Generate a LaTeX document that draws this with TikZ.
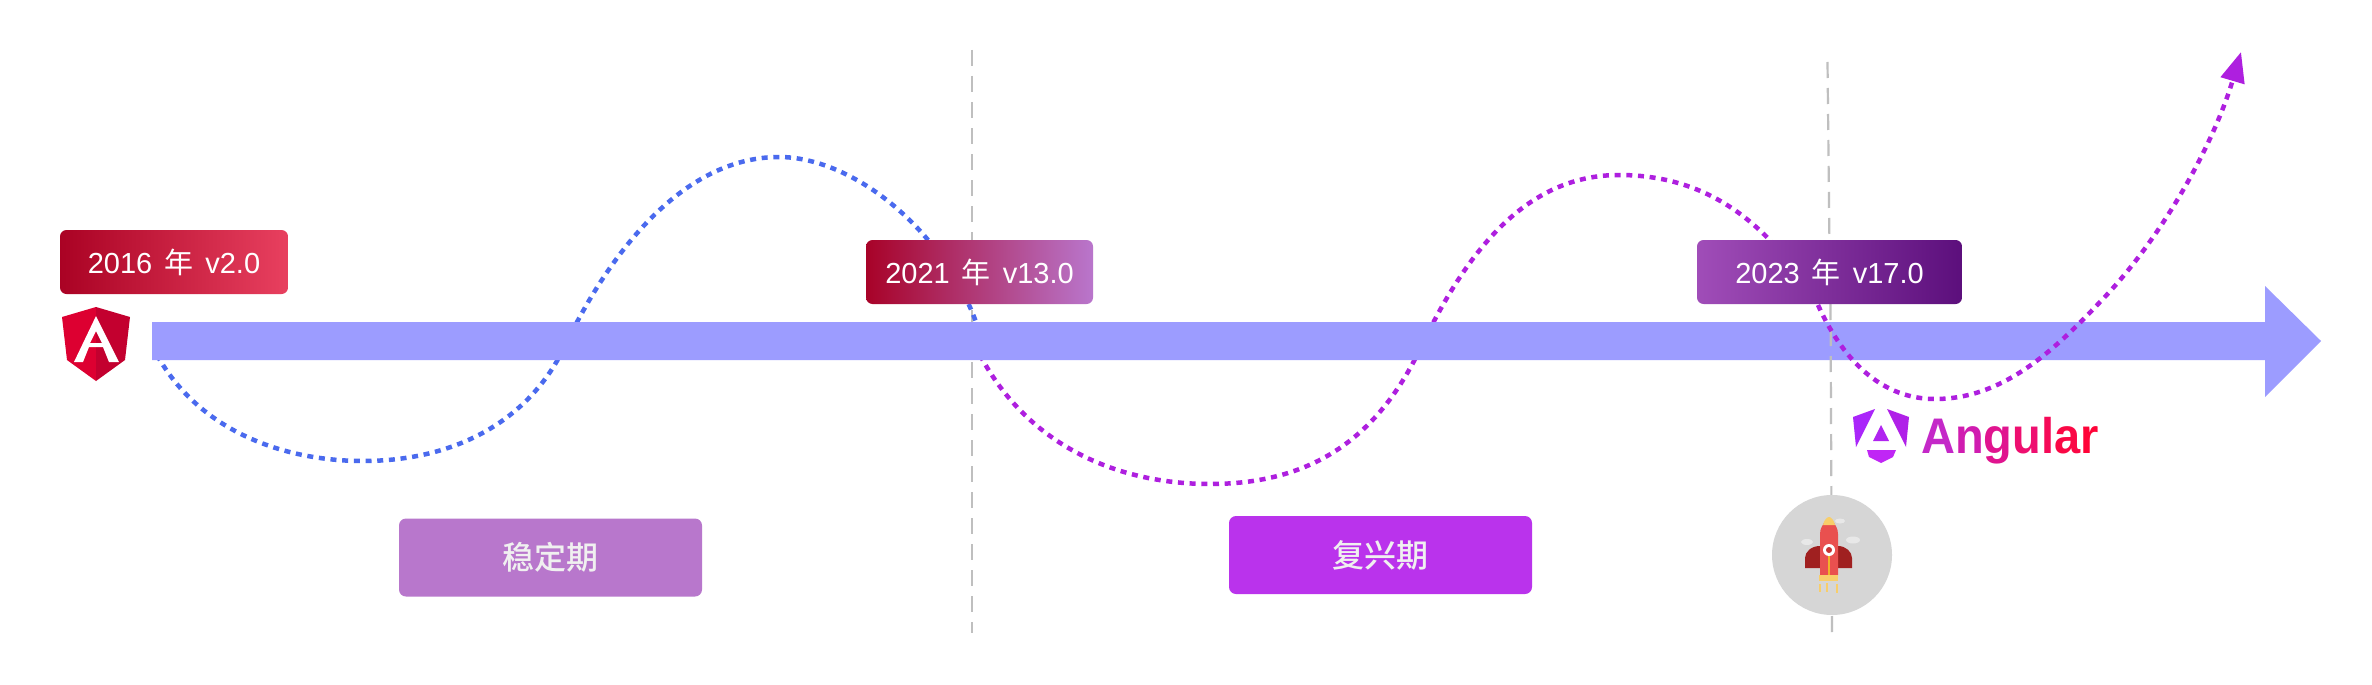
\documentclass[tikz,border=0pt]{standalone}
\usepackage{fontspec}
\usetikzlibrary{arrows.meta}
\setmainfont{Liberation Sans}
\newfontfamily\cjk{Noto Sans CJK SC}
\newfontfamily\cjkm{Noto Sans CJK SC Medium}
\newcommand{\yr}[2]{#1\hspace{12pt}{\cjk 年}\hspace{12pt}#2}
\definecolor{barc}{HTML}{9C9CFF}
\definecolor{bluec}{HTML}{4A6AEE}
\definecolor{purpc}{HTML}{AE1FDF}
\definecolor{guide}{HTML}{BFBFBF}
\definecolor{ya}{HTML}{AA0224}\definecolor{yb}{HTML}{E8405F}
\definecolor{yc}{HTML}{A80228}\definecolor{yd}{HTML}{B976CC}
\definecolor{ye}{HTML}{A04DB8}\definecolor{yf}{HTML}{5C0F7C}
\definecolor{sa}{HTML}{B877CC}\definecolor{sb}{HTML}{BA33EC}
\definecolor{shl}{HTML}{DD0031}\definecolor{shr}{HTML}{C3002F}
\definecolor{nla}{HTML}{AA26FA}\definecolor{nlb}{HTML}{B020E8}
\definecolor{nlc}{HTML}{C026F5}\definecolor{nld}{HTML}{B024F0}
\definecolor{badge}{HTML}{D6D6D6}\definecolor{cloud}{HTML}{E8E8E8}
\definecolor{fin}{HTML}{A02020}\definecolor{rbody}{HTML}{E9504F}
\definecolor{ryel}{HTML}{F8CE6A}\definecolor{rstr}{HTML}{F0B428}\definecolor{reye}{HTML}{C83232}
\tikzset{
  yearbox/.style={rounded corners=6.5pt,minimum width=#1,minimum height=64pt,inner sep=0pt,text=white,font=\fontsize{29}{34}\selectfont},
  stagebox/.style={rounded corners=7pt,minimum width=303pt,minimum height=78pt,inner sep=0pt,text=white!94!black,font=\fontsize{32}{36}\selectfont\cjkm},
  guideline/.style={draw=guide,line width=2.2pt,dash pattern=on 16pt off 10pt},
  curveline/.style={line width=4.5pt,dash pattern=on 6pt off 5.7pt},
}
\begin{document}
\begin{tikzpicture}[x=1pt,y=-1pt]
\useasboundingbox (0,0) rectangle (2372,685);
\fill[white] (0,0) rectangle (2372,685);
% named points
\coordinate (g1a) at (972,50); \coordinate (g1b) at (972,633);
\coordinate (g2a) at (1827.5,62); \coordinate (g2b) at (1830,296);
\coordinate (g3a) at (1830.5,304); \coordinate (g3b) at (1832,632);
\coordinate (b0) at (157,355); \coordinate (b1) at (363,461); \coordinate (b2) at (563,350);
\coordinate (b3) at (779,157); \coordinate (b4) at (976,322);
\coordinate (p0) at (980,355); \coordinate (p1) at (1210,484); \coordinate (p2) at (1422,345);
\coordinate (p3) at (1619,175); \coordinate (p4) at (1818,305);
\coordinate (p5) at (1935,399); \coordinate (p6) at (2100,302); \coordinate (p7) at (2241,52);
% guide 1 and curves under the bar
\draw[guideline] (g1a) -- (g1b);
\draw[curveline,bluec] (b0) .. controls (200,432) and (285,461) .. (b1)
  .. controls (450,461) and (525,425) .. (b2)
  .. controls (615,240) and (690,157) .. (b3)
  .. controls (850,157) and (940,225) .. (b4);
\draw[curveline,purpc] (p0) .. controls (1025,440) and (1110,484) .. (p1)
  .. controls (1320,484) and (1382,430) .. (p2)
  .. controls (1470,245) and (1530,175) .. (p3)
  .. controls (1700,175) and (1765,215) .. (p4);
% main axis
\fill[barc] (152,322) -- (2265,322) -- (2265,286) -- (2321,341) -- (2265,397) -- (2265,360) -- (152,360) -- cycle;
% guide 2 and rising curve
\draw[guideline] (g2a) -- (g2b);
\draw[guideline] (g3a) -- (g3b);
\draw[curveline,purpc,-{Triangle[length=30pt,width=24pt]}] (p4) .. controls (1845,365) and (1885,399) .. (p5)
  .. controls (2000,399) and (2050,355) .. (p6)
  .. controls (2165,235) and (2215,140) .. (p7);
% year boxes
\node[yearbox=228pt,left color=ya,right color=yb] (y2016) at (174,262) {\yr{2016}{v2.0}};
\node[yearbox=227pt,left color=yc,right color=yd] (y2021) at (979.5,272) {\yr{2021}{v13.0}};
\node[yearbox=265pt,left color=ye,right color=yf] (y2023) at (1829.5,272) {\yr{2023}{v17.0}};
% stage boxes
\node[stagebox,fill=sa] (s1) at (550.5,557.5) {稳定期};
\node[stagebox,fill=sb] (s2) at (1380.5,555) {复兴期};
% Angular shield (red)
\fill[shl] (96,307) -- (62,317) -- (67,360) -- (96,381) -- cycle;
\fill[shr] (96,307) -- (130,317) -- (125,360) -- (96,381) -- cycle;
\fill[white,even odd rule] (96,316) -- (119,362) -- (109,362) -- (103,347) -- (89,347) -- (83,362) -- (74,362) -- cycle
  (96,331) -- (102,343) -- (90,343) -- cycle;
% Angular logo (new)
\fill[nla] (1875,409) -- (1853,417) -- (1856,447) -- cycle;
\fill[nlb] (1887,409) -- (1909,417) -- (1906,447) -- cycle;
\fill[nlc] (1867,450) -- (1896,450) -- (1893,457) -- (1881,463) -- (1869,457) -- cycle;
\fill[nld] (1881,425) -- (1873,441) -- (1889,441) -- cycle;
\node[anchor=base west,inner sep=0pt,font=\fontsize{50}{56}\selectfont\bfseries,xscale=0.94,transform shape] (ang) at (1921,453)
 {\textcolor[HTML]{C428C8}{A}\textcolor[HTML]{D01CB0}{n}\textcolor[HTML]{E0148F}{g}\textcolor[HTML]{EE0F70}{u}\textcolor[HTML]{F50A58}{l}\textcolor[HTML]{FA0845}{a}\textcolor[HTML]{FF0338}{r}};
% rocket badge
\fill[badge] (1832,555) circle (60);
\fill[cloud] (1807,542) ellipse (6 and 3) (1853,540) ellipse (7 and 3.5) (1840,521) ellipse (5 and 2.5);
\fill[fin] (1805,568) -- (1805,558) .. controls (1805,552) and (1811,546) .. (1820,546) -- (1838,546) .. controls (1846,546) and (1852,552) .. (1852,558) -- (1852,568) -- cycle;
\fill[rbody] (1820,575) -- (1820,534) .. controls (1820,528) and (1823,525) .. (1824,523) -- (1834,523) .. controls (1835,525) and (1838,528) .. (1838,534) -- (1838,575) -- cycle;
\fill[ryel] (1823,525) .. controls (1824,520) and (1827,517) .. (1829,517) .. controls (1831,517) and (1834,520) .. (1835,525) -- cycle;
\fill[ryel] (1819,575) rectangle (1838,581);
\fill[rstr] (1828,555) rectangle (1830,575);
\fill[white] (1829,550) circle (6);
\fill[reye] (1829,550) circle (3);
\draw[ryel,line width=1.8pt] (1820,584) -- (1820,592) (1827,583) -- (1827,592) (1837,584) -- (1837,593);
\end{tikzpicture}
\end{document}
